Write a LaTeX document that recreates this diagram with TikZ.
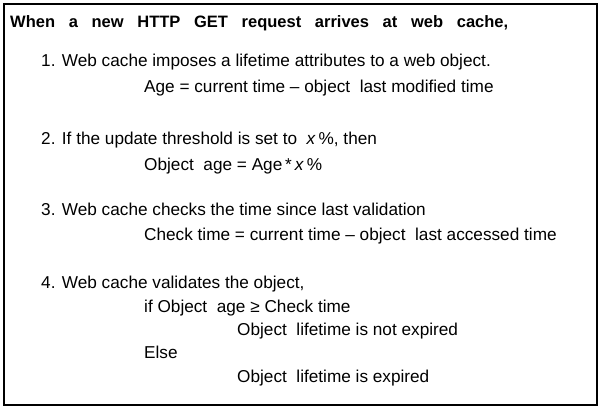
\documentclass[tikz,border=0pt]{standalone}
\usepackage{fontspec}
\setmainfont{Liberation Sans}
\begin{document}
\begin{tikzpicture}[x=1pt,y=-1pt,
  txt/.style={anchor=base west,inner sep=0pt,font=\fontsize{17.2}{20}\selectfont},
  ttl/.style={anchor=base west,inner sep=0pt,font=\fontsize{16.5}{20}\selectfont\bfseries}]
\useasboundingbox (0,0) rectangle (601,408);
\draw[line width=1.8pt] (4,4) rectangle (597,405);
\node[ttl] (title) at (10,27) {\makebox[498pt][s]{When a new HTTP GET request arrives at web cache,}};
\node[txt] (s1) at (41,66) {1. Web cache imposes a lifetime attributes to a web object.};
\node[txt] (s1f) at (144,92) {Age = current time -- object\ \ last modified time};
\node[txt] (s2) at (41,144) {2. If the update threshold is set to \ \textit{x}\,\%, then};
\node[txt] (s2f) at (144,170) {Object\ \ age = Age\,*\,\textit{x}\,\%};
\node[txt] (s3) at (41,215) {3. Web cache checks the time since last validation};
\node[txt] (s3f) at (144,240) {Check time = current time -- object\ \ last accessed time};
\node[txt] (s4) at (41,288) {4. Web cache validates the object,};
\node[txt] (s4a) at (144,312) {if Object\ \ age ≥ Check time};
\node[txt] (s4b) at (237,335) {Object\ \ lifetime is not expired};
\node[txt] (s4c) at (144,358) {Else};
\node[txt] (s4d) at (237,382) {Object\ \ lifetime is expired};
\end{tikzpicture}
\end{document}
